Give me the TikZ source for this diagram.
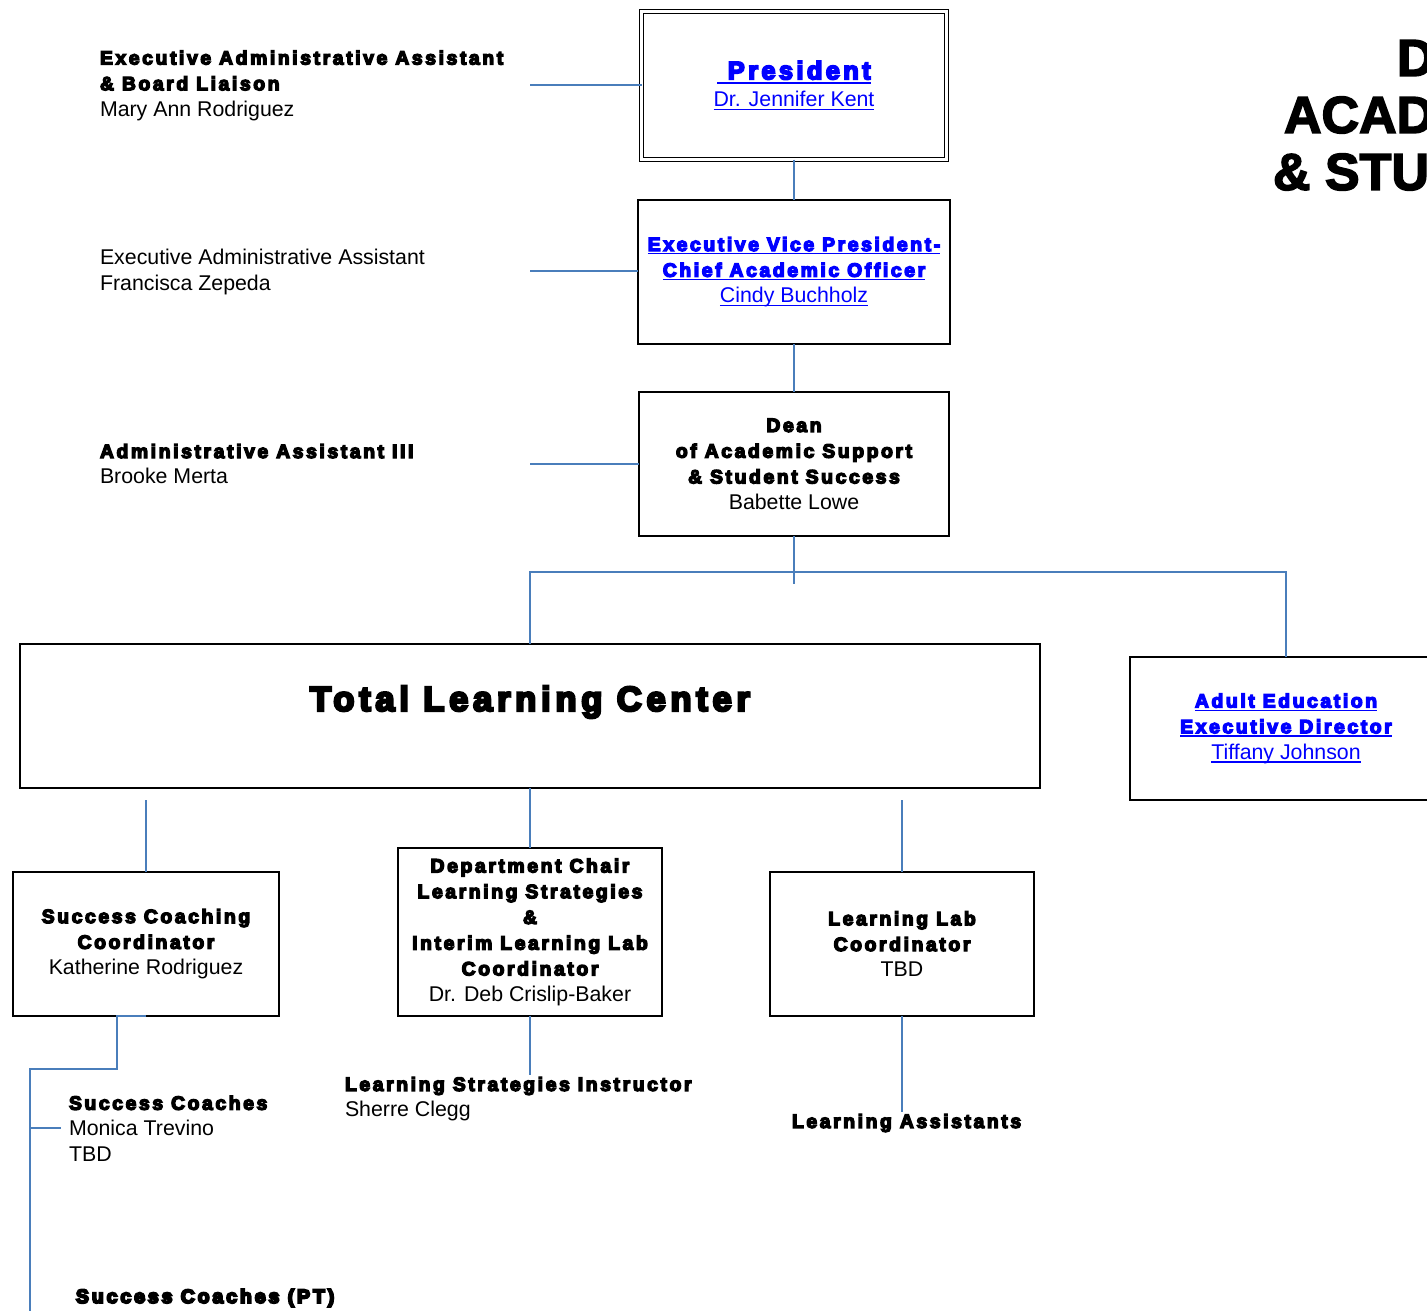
\documentclass[tikz,border=0pt]{standalone}
\usepackage{fontspec}
\setmainfont{Liberation Sans}
\newfontfamily\blkfont{Liberation Sans}[BoldFeatures={FakeBold=7,LetterSpace=13.5}]
\newfontfamily\blkxfont{Liberation Sans}[BoldFeatures={FakeBold=10,LetterSpace=15.5}]
\newfontfamily\ttlfont{Liberation Sans}[BoldFeatures={FakeBold=3}]
\definecolor{linkblue}{RGB}{0,0,255}
\definecolor{conblue}{RGB}{74,126,187}
\newcommand\bt{\blkfont\bfseries\fontsize{14.5}{19.3}\selectfont}
\newcommand\btx{\blkxfont\bfseries\fontsize{14.5}{19.3}\selectfont}
\newcommand\rt{\normalfont\fontsize{16}{19.3}\selectfont}
\newcommand\ul[1]{\leavevmode\setbox0\hbox{#1}\rlap{\rule[-0.17em]{\wd0}{0.07em}}\box0}
\begin{document}
\begin{tikzpicture}[x=0.75pt,y=-0.75pt,
  box/.style={draw=black,line width=1.8pt,inner sep=0pt,outer sep=0pt,align=center},
  conn/.style={draw=conblue,line width=1.5pt},
  thinconn/.style={draw=conblue,line width=1.1pt},
  lbl/.style={inner sep=0pt,outer sep=0pt,align=left,anchor=west},
  ctext/.style={inner sep=0pt,outer sep=0pt,align=center},
  font=\rt]
\useasboundingbox (0,0) rectangle (1427,1310);
\clip (0,0) rectangle (1427,1310);

% title (cut by the page edge, as in the reference)
\node[lbl] (t1) at (1397,58) {\ttlfont\bfseries\fontsize{39}{45}\selectfont D};
\node[lbl] (t2) at (1284,115) {\ttlfont\bfseries\fontsize{39}{45}\selectfont ACAD};
\node[lbl] (t3) at (1273,172) {\ttlfont\bfseries\fontsize{39}{45}\selectfont \& STU};

% boxes
\node[box,double,double distance=1.6pt,line width=1.4pt,text=linkblue,
      minimum width=305*0.75pt,minimum height=148*0.75pt] (pres) at (794,85.5)
  {{\bt\fontsize{19}{24}\selectfont\ul{~President}}\\[1pt]{\rt\ul{Dr. Jennifer Kent}}};
\node[box,text=linkblue,minimum width=312*0.75pt,minimum height=144*0.75pt] (evp) at (794,272)
  {{\bt\ul{Executive Vice President-}}\\{\bt\ul{Chief Academic Officer}}\\{\rt\ul{Cindy Buchholz}}};
\node[box,minimum width=310*0.75pt,minimum height=144*0.75pt] (dean) at (794,464)
  {{\bt Dean}\\{\bt of Academic Support}\\{\bt \& Student Success}\\{\rt Babette Lowe}};
\node[box,minimum width=1020*0.75pt,minimum height=144*0.75pt] (tlc) at (530,716) {};
\node[ctext] (tlctext) at (530,702) {\bt\fontsize{26}{30}\selectfont Total Learning Center};
\node[box,text=linkblue,minimum width=312*0.75pt,minimum height=143*0.75pt] (adult) at (1286,728.5)
  {{\bt\ul{Adult Education}}\\{\bt\ul{Executive Director}}\\{\rt\ul{Tiffany Johnson}}};
\node[box,minimum width=266*0.75pt,minimum height=144*0.75pt] (scc) at (146,944)
  {{\bt Success Coaching}\\{\bt Coordinator}\\{\rt Katherine Rodriguez}};
\node[box,minimum width=264*0.75pt,minimum height=168*0.75pt] (dept) at (530,932)
  {{\bt Department Chair}\\{\bt Learning Strategies}\\{\bt \&}\\{\bt Interim Learning Lab}\\{\bt Coordinator}\\{\rt Dr. Deb Crislip-Baker}};
\node[box,minimum width=264*0.75pt,minimum height=144*0.75pt] (lab) at (902,944)
  {{\bt Learning Lab}\\{\bt Coordinator}\\{\rt TBD}};

% side labels
\node[lbl] (eaa) at (100,85.5)
  {{\bt Executive Administrative Assistant}\\{\bt \& Board Liaison}\\{\rt Mary Ann Rodriguez}};
\node[lbl] (eaa2) at (100,272)
  {{\rt Executive Administrative Assistant}\\{\rt Francisca Zepeda}};
\node[lbl] (aa3) at (100,464)
  {{\bt Administrative Assistant III}\\{\rt Brooke Merta}};
\node[lbl] (sc) at (69,1128.5)
  {{\bt Success Coaches}\\{\rt Monica Trevino}\\{\rt TBD}};
\node[lbl] (lsi) at (345,1099)
  {{\bt Learning Strategies Instructor}\\{\rt Sherre Clegg}};
\node[lbl] (la) at (792,1123) {\bt Learning Assistants};
\node[lbl] (scpt) at (76,1298) {\btx Success Coaches (PT)};

% free connector ends
\coordinate (c1) at (530,85);
\coordinate (c2) at (530,271);
\coordinate (c3) at (530,464);
\coordinate (deanend) at (794,584);
\coordinate (bus) at (794,572);
\coordinate (u1) at (146,800);
\coordinate (u3) at (902,800);
\coordinate (s1) at (117,1016);
\coordinate (s2) at (117,1069);
\coordinate (s3) at (30,1069);
\coordinate (s4) at (30,1312);
\coordinate (s5) at (30,1128);
\coordinate (s6) at (61,1128);
\coordinate (d1) at (530,1075);
\coordinate (l1) at (902,1112);

% connectors
\draw[conn] (c1) -- (c1 -| pres.west);
\draw[conn] (pres.south) -- (evp.north);
\draw[conn] (c2) -- (c2 -| evp.west);
\draw[conn] (evp.south) -- (dean.north);
\draw[conn] (c3) -- (c3 -| dean.west);
\draw[conn] (dean.south) -- (deanend);
\draw[conn] (tlc.north) |- (bus) -| (adult.north);
\draw[thinconn] (u1) -- (scc.north);
\draw[thinconn] (tlc.south) -- (dept.north);
\draw[thinconn] (u3) -- (lab.north);
\draw[conn] (scc.south) -- (s1) -- (s2) -- (s3) -- (s4);
\draw[conn] (s5) -- (s6);
\draw[thinconn] (dept.south) -- (d1);
\draw[thinconn] (lab.south) -- (l1);
\end{tikzpicture}
\end{document}
